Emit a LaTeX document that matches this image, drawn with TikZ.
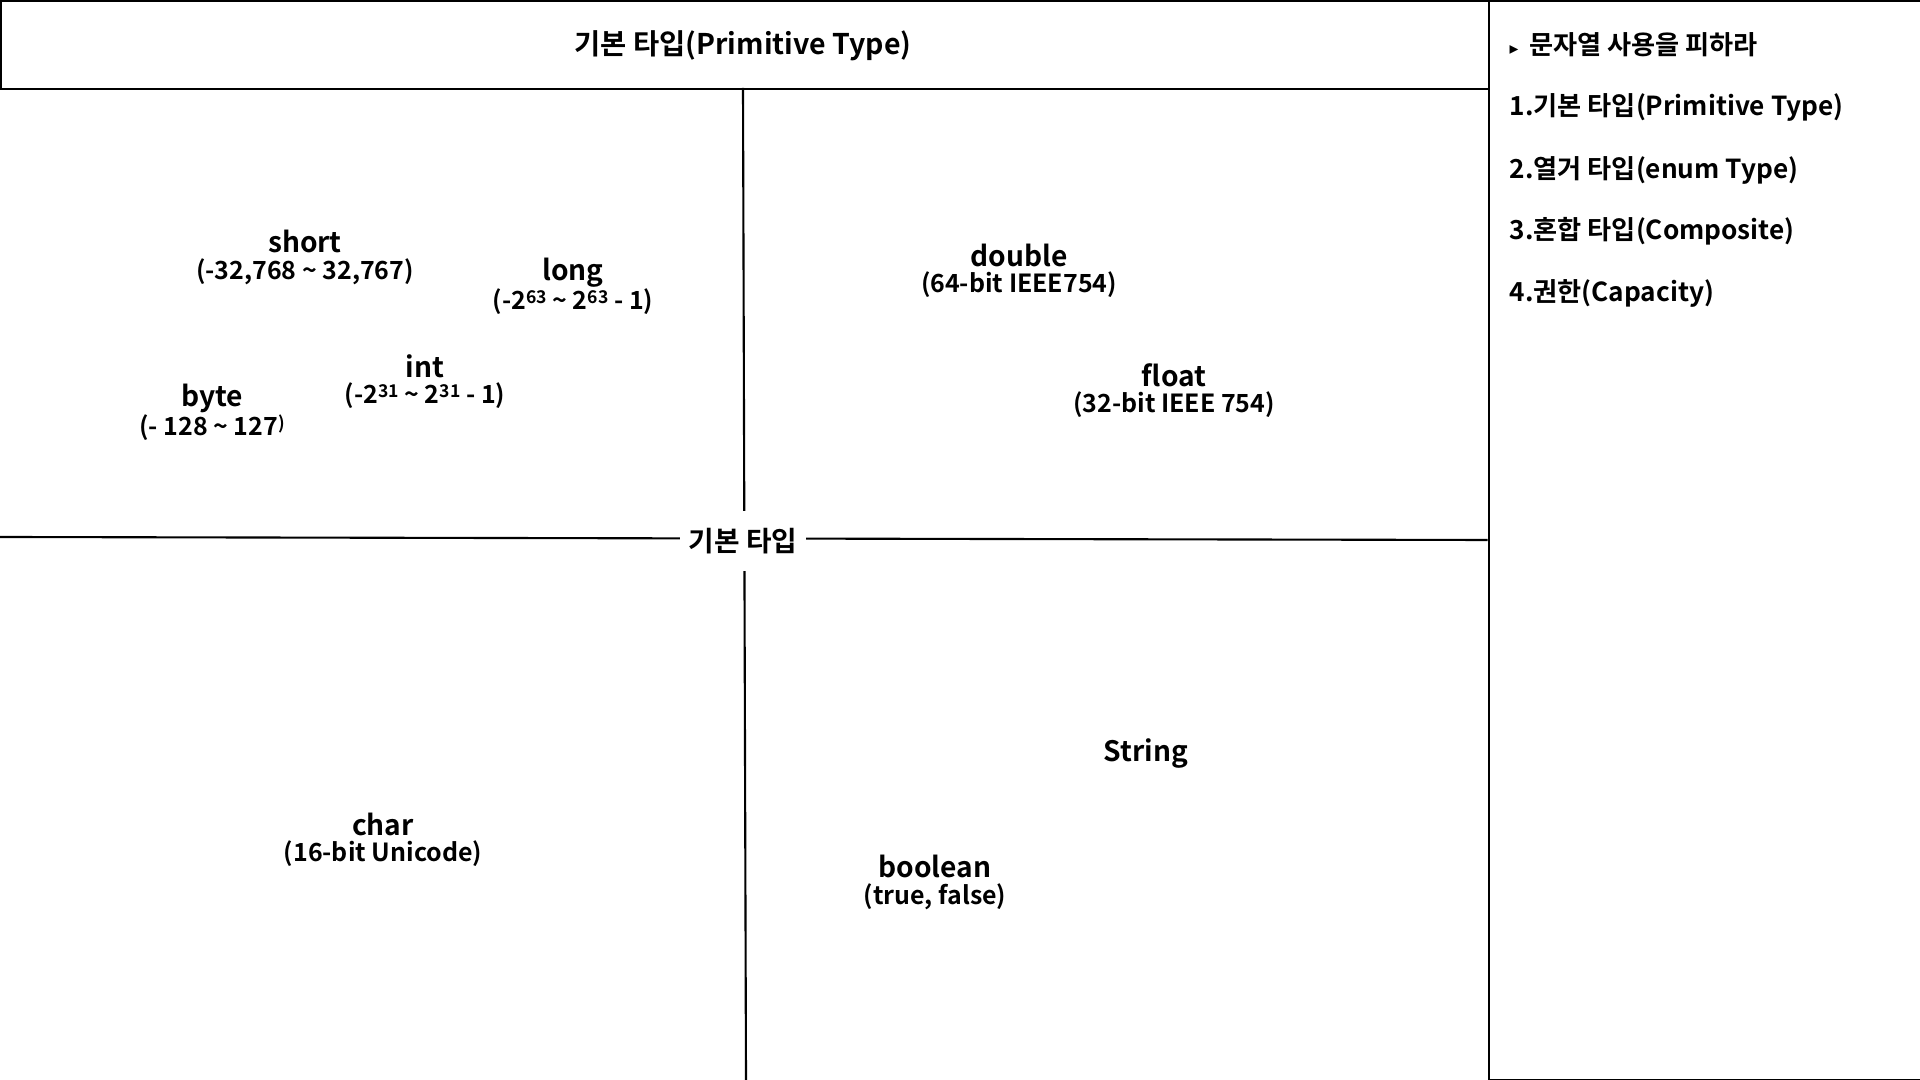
\documentclass[tikz,border=0pt]{standalone}
\usepackage{fontspec}
\setmainfont{Noto Sans CJK KR}[BoldFont={Noto Sans CJK KR Bold}]
\newfontfamily\symfont{DejaVu Sans}
\newcommand\mysupx[1]{\raisebox{0.45ex}{\fontsize{5pt}{5pt}\selectfont #1}}
\begin{document}
\begin{tikzpicture}[x=0.01cm,y=-0.01cm,
  frame/.style={draw=black,line width=0.6pt},
  divider/.style={draw=black,line width=0.6pt},
  tname/.style={font=\bfseries\fontsize{8pt}{9pt}\selectfont,inner sep=0pt,anchor=center},
  trange/.style={font=\bfseries\fontsize{7.1pt}{8pt}\selectfont,inner sep=0pt,anchor=center},
  titletext/.style={font=\bfseries\fontsize{8.1pt}{9pt}\selectfont,inner sep=0pt},
  listitem/.style={font=\bfseries\fontsize{7.45pt}{9pt}\selectfont,inner sep=0pt,anchor=west},
  hub/.style={font=\bfseries\fontsize{7.9pt}{9pt}\selectfont,fill=white,inner xsep=2.5pt,inner ysep=5pt}
]
\useasboundingbox (0,0) rectangle (1920,1080);
% frames
\node[frame,minimum width=1488*0.01cm,minimum height=88*0.01cm,anchor=north west,inner sep=0pt] (topbox) at (0,0) {};
\node[frame,minimum width=432*0.01cm,minimum height=1079*0.01cm,anchor=north west,inner sep=0pt] (sidebox) at (1487.5,0.3) {};
\node[titletext] (title) at (743,46) {기본 타입(Primitive Type)};
% dividers
\coordinate (vtop) at (743,88);
\coordinate (vbot) at (746,1080);
\coordinate (hl) at (0,537);
\coordinate (hr) at (1487.5,540);
\draw[divider] (vtop) -- (vbot);
\draw[divider] (hl) -- (hr);
\node[hub] (hub) at (743,541) {기본 타입};
% left top quadrant
\node[tname] (short) at (305,241) {short};
\node[trange] (shortr) at (305,272) {(-32,768 \char"7E{} 32,767)};
\node[tname] (long) at (573,273) {long};
\node[trange] (longr) at (573,302) {(-2\mysupx{63} \char"7E{} 2\mysupx{63} - 1)};
\node[tname] (int) at (425,366) {int};
\node[trange] (intr) at (425,396) {(-2\mysupx{31} \char"7E{} 2\mysupx{31} - 1)};
\node[tname] (byte) at (212,398) {byte};
\node[trange] (byter) at (212,428) {(- 128 \char"7E{} 127\mysupx{)}};
% right top quadrant
\node[tname] (double) at (1019,255) {double};
\node[trange] (doubler) at (1019,285) {(64-bit IEEE754)};
\node[tname] (float) at (1174,375) {float};
\node[trange] (floatr) at (1174,405) {(32-bit IEEE 754)};
% bottom
\node[tname] (string) at (1146,754) {String};
\node[tname] (char) at (383,824) {char};
\node[trange] (charr) at (383,854) {(16-bit Unicode)};
\node[tname] (boolean) at (935,866) {boolean};
\node[trange] (booleanr) at (935,897) {(true, false)};
% side list
\node[listitem] (l0) at (1509,45) {{\symfont\fontsize{5pt}{6pt}\selectfont ▸}\hspace{3pt}문자열 사용을 피하라};
\node[listitem] (l1) at (1509,107) {1.기본 타입(Primitive Type)};
\node[listitem] (l2) at (1509,170) {2.열거 타입(enum Type)};
\node[listitem] (l3) at (1509,231) {3.혼합 타입(Composite)};
\node[listitem] (l4) at (1509,293) {4.권한(Capacity)};
\end{tikzpicture}
\end{document}
